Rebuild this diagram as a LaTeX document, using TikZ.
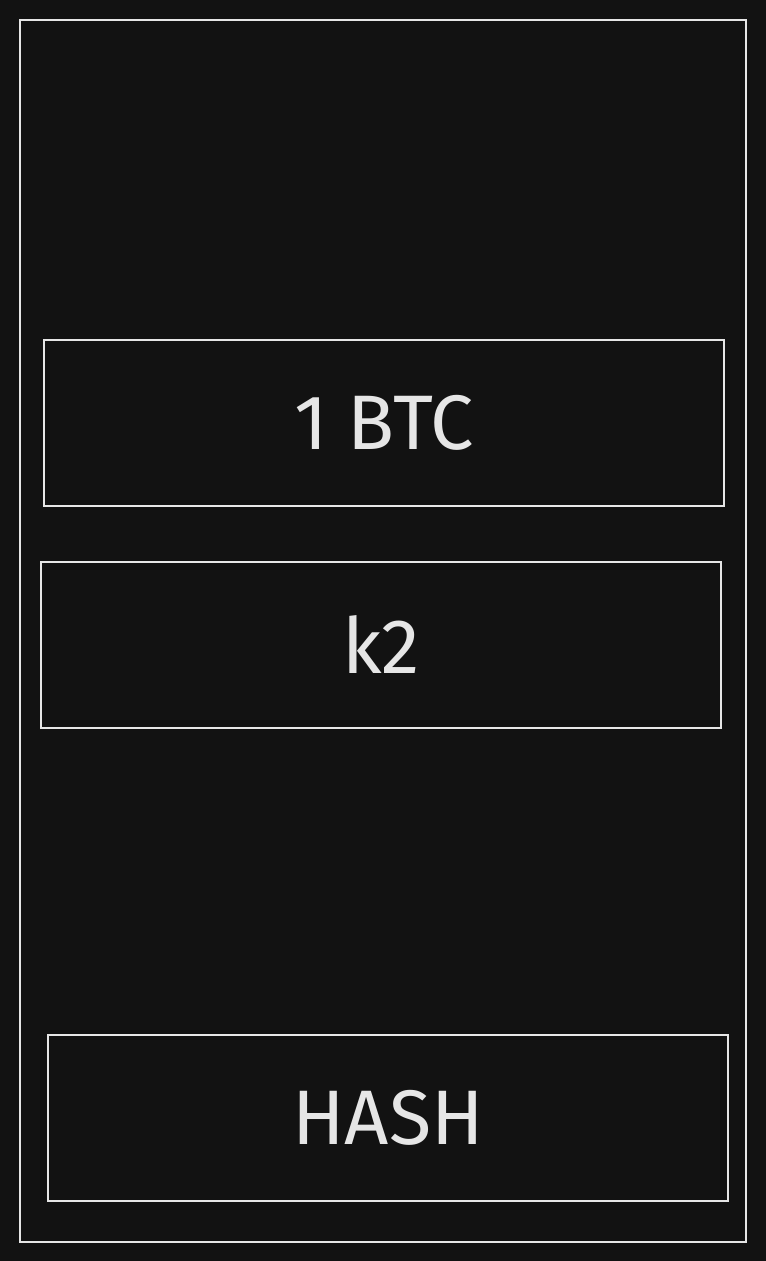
\documentclass[tikz,border=0pt]{standalone}
\usepackage{fontspec}
\setmainfont{Fira Sans}
\usepackage{xcolor}
\usetikzlibrary{positioning}
\definecolor{bgdark}{HTML}{121212}
\definecolor{chalk}{HTML}{E6E6E6}

\begin{document}
\begin{tikzpicture}[x=0.02cm, y=-0.02cm, line width=1pt]
    \useasboundingbox[fill=bgdark] (0,0) rectangle (766,1261);
    \tikzset{
        field/.style={draw=chalk, text=chalk, minimum width=13.6cm, minimum height=3.32cm,
                      inner sep=0pt, font=\fontsize{44}{50}\selectfont},
        frame/.style={draw=chalk, minimum width=14.52cm, minimum height=24.44cm, inner sep=0pt}
    }
    \node[frame] (card) at (383,631) {};

    \node[field] (amount) at (384,423) {1 BTC};
    \node[field] (key) at (381,645) {k2};
    \node[field] (hash) at (388,1118) {HASH};

\end{tikzpicture}
\end{document}
